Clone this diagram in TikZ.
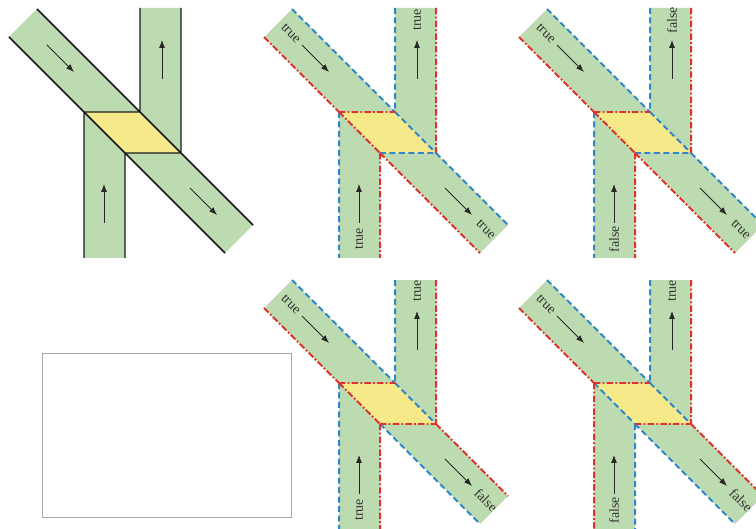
\documentclass[tikz,border=0pt]{standalone}
\usepackage{fontspec}
\setmainfont{Liberation Serif}
\usetikzlibrary{arrows.meta}
\definecolor{roadgreen}{HTML}{BCDBB1}
\definecolor{crossyellow}{HTML}{F6E98A}
\definecolor{edgeblue}{HTML}{2F86CC}
\definecolor{edgered}{HTML}{E0322B}
\tikzset{
  road/.style={fill=roadgreen},
  cross/.style={fill=crossyellow},
  kerb/.style={line width=1.5pt,black!90},
  blueedge/.style={edgeblue,line width=2pt,dash pattern=on 6pt off 3.5pt},
  rededge/.style={edgered,line width=2pt,dash pattern=on 6.5pt off 2.2pt on 1.8pt off 2.2pt},
  flow/.style={-{Latex[length=8pt,width=6pt]},line width=.8pt,black!85},
  tag/.style={font=\fontsize{14}{14}\selectfont,text=black!80,inner sep=0pt},
  blankbox/.style={draw=black!35,line width=.8pt,minimum width=249bp,minimum height=164bp},
}
% one crossing: corners, fill and the four flow arrows
\newcommand\crossing[1]{%
  \coordinate (ulu) at (37,9);   \coordinate (ull) at (9,37);
  \coordinate (lru) at (253,225); \coordinate (lrl) at (225,253);
  \coordinate (urt1) at (140,#1); \coordinate (urt2) at (181,#1);
  \coordinate (lwb1) at (84,258); \coordinate (lwb2) at (125,258);
  \coordinate (a) at (84,112);  \coordinate (b) at (140,112);
  \coordinate (c) at (181,153); \coordinate (d) at (125,153);
  \fill[road] (ulu) -- (b) -- (urt1) -- (urt2) -- (c) -- (lru) -- (lrl) -- (d)
    -- (lwb2) -- (lwb1) -- (a) -- (ull) -- cycle;
  \fill[cross] (a) -- (b) -- (c) -- (d) -- cycle;
  \draw[flow] (47,45) -- (74,72);
  \draw[flow] (162,79) -- (162,40);
  \draw[flow] (104,223) -- (104,184);
  \draw[flow] (190,188) -- (217,215);
}
% the four labels: in, out (up), in (up), out
\newcommand\tags[4]{%
  \node[tag,rotate=-45] (tagin) at (36,33) {#1};
  \node[tag,rotate=90] (tagup) at (162,20) {#2};
  \node[tag,rotate=90] (taglow) at (104,239) {#3};
  \node[tag,rotate=-45] (tagout) at (231,229) {#4};
}

\begin{document}
\begin{tikzpicture}[x=1bp,y=-1bp]
  \useasboundingbox (0,0) rectangle (756,529);

  % plain crossing
  \crossing{8}
  \draw[kerb] (ulu) -- (lru) (ull) -- (lrl) (urt1) -- (b) (urt2) -- (c)
    (lwb1) -- (a) (lwb2) -- (d) (a) -- (b) (d) -- (c);

  \begin{scope}[shift={(255,0)}]
    \crossing{8}
    \draw[blueedge] (ulu) -- (b) (urt1) -- (b) (b) -- (c) (d) -- (c) (c) -- (lru) (a) -- (lwb1);
    \draw[rededge] (ull) -- (a) (urt2) -- (c) (a) -- (b) (a) -- (d) (d) -- (lrl) (d) -- (lwb2);
    \tags{true}{true}{true}{true}
  \end{scope}

  \begin{scope}[shift={(510,0)}]
    \crossing{8}
    \draw[blueedge] (ulu) -- (b) (urt1) -- (b) (b) -- (c) (d) -- (c) (c) -- (lru) (a) -- (lwb1);
    \draw[rededge] (ull) -- (a) (urt2) -- (c) (a) -- (b) (a) -- (d) (d) -- (lrl) (d) -- (lwb2);
    \tags{true}{false}{false}{true}
  \end{scope}

  \begin{scope}[shift={(255,271)}]
    \crossing{9}
    \draw[blueedge] (ulu) -- (b) (urt1) -- (b) (b) -- (c) (d) -- (lrl) (a) -- (lwb1);
    \draw[rededge] (ull) -- (a) (urt2) -- (c) (a) -- (b) (d) -- (c) (a) -- (d) (c) -- (lru) (d) -- (lwb2);
    \tags{true}{true}{true}{false}
  \end{scope}

  \begin{scope}[shift={(510,271)}]
    \crossing{9}
    \draw[blueedge] (ulu) -- (b) (urt1) -- (b) (b) -- (c) (a) -- (d) (d) -- (lrl) (d) -- (lwb2);
    \draw[rededge] (ull) -- (a) (urt2) -- (c) (a) -- (b) (d) -- (c) (c) -- (lru) (a) -- (lwb1);
    \tags{true}{true}{false}{false}
  \end{scope}

  \node[blankbox] (blank) at (166.5,435) {};
\end{tikzpicture}
\end{document}
